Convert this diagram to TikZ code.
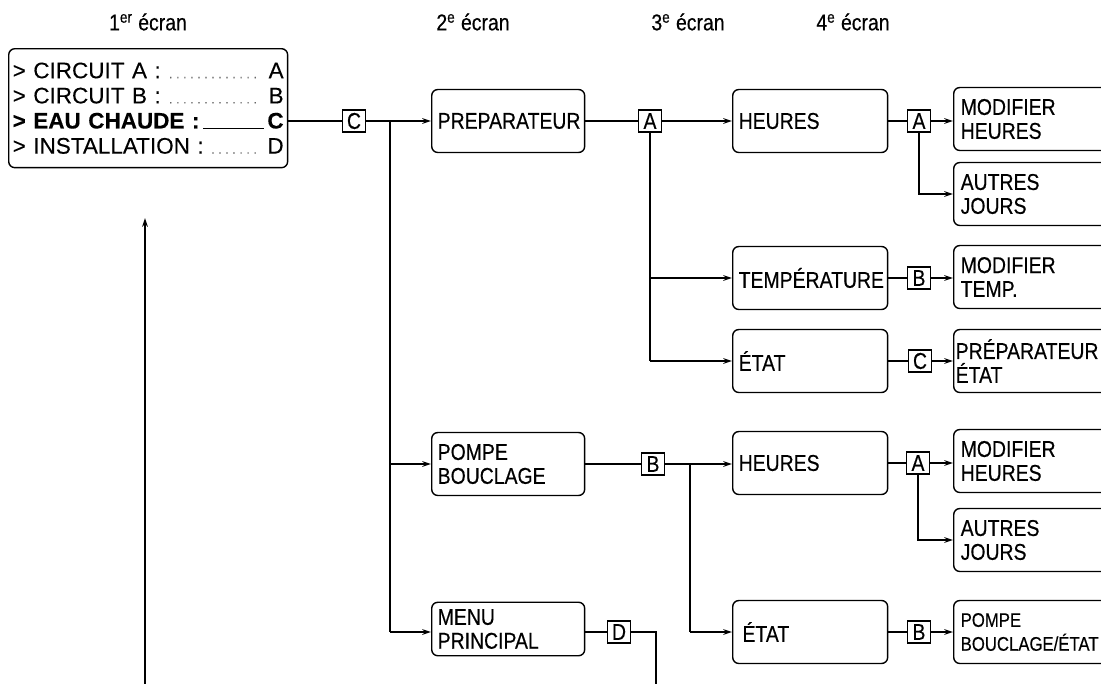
\documentclass[tikz,border=0pt]{standalone}
\usepackage{fontspec}
\setmainfont[FakeStretch=0.85,FakeBold=0.4]{Liberation Sans}
\newfontfamily\ecranfont[FakeBold=0.2]{Liberation Sans}
\usetikzlibrary{arrows.meta}
\newcommand{\pointilles}{\,{\color{black!60}\leaders\hbox to 4pt{\hss\fontsize{7}{7}\selectfont.\hss}\hfill}\,}
\newcommand{\trait}{\,\leaders\hrule height 0.5pt\hfill\,}

\begin{document}
\begin{tikzpicture}[
    x=0.02cm, y=-0.02cm,
    box/.style={draw, rounded corners=3.5pt, line width=0.8pt, align=left, inner xsep=0.12cm, inner ysep=0pt, minimum height=1.26cm, font=\fontsize{13}{13.6}\selectfont},
    box2/.style={box, text width=2.82cm},
    box3/.style={box, text width=2.86cm},
    box4/.style={box, text width=3.26cm, inner xsep=0.14cm},
    ecranbox/.style={draw, rounded corners=3.5pt, line width=0.8pt, align=left, inner xsep=0.08cm, text width=5.42cm, minimum height=2.38cm, font=\ecranfont\fontsize{12.8}{14.3}\selectfont},
    key/.style={draw, line width=0.8pt, inner sep=0pt, minimum width=0.46cm, minimum height=0.44cm, font=\fontsize{13}{13.6}\selectfont},
    titre/.style={font=\fontsize{13}{13.6}\selectfont},
    trace/.style={line width=0.8pt},
    arr/.style={-{Stealth[length=5pt,width=3.2pt]}, line width=0.8pt}
  ]
    \useasboundingbox (0,0) rectangle (1101,683);
    \node[titre] (t1) at (148,22) {1\textsuperscript{er} écran};
    \node[titre] (t2) at (473,22) {2\textsuperscript{e} écran};
    \node[titre] (t3) at (688,22) {3\textsuperscript{e} écran};
    \node[titre] (t4) at (853,22) {4\textsuperscript{e} écran};
    \node[ecranbox, anchor=north west] (ecran) at (8,48) {%
      > CIRCUIT A :\pointilles A\\
      > CIRCUIT B :\pointilles B\\
      \textbf{> EAU CHAUDE :}\trait\textbf{C}\\
      > INSTALLATION :\pointilles D};
    \node[key] (kC) at (354,121) {C};
    \node[box2, anchor=west] (prep) at (431,121) {PREPARATEUR};
    \node[key] (kA1) at (650,121) {A};
    \node[box3, anchor=west] (heures1) at (732,121) {HEURES};
    \node[key] (kA2) at (919,121) {A};
    \node[box4, anchor=west] (modh1) at (953,119) {MODIFIER\\HEURES};
    \node[box4, anchor=west] (jours1) at (953,194) {AUTRES\\JOURS};
    \node[box3, anchor=west] (temp) at (732,278) {TEMPÉRATURE};
    \node[key] (kB1) at (919,278) {B};
    \node[box4, anchor=west] (modt) at (953,277) {MODIFIER\\TEMP.};
    \node[box3, anchor=west] (etat1) at (732,361) {ÉTAT};
    \node[key] (kC2) at (920,361) {C};
    \node[box4, anchor=west, inner xsep=0.04cm, text width=3.46cm] (prepetat) at (953,361) {PRÉPARATEUR\\ÉTAT};
    \node[box2, anchor=west] (pompe) at (431,464) {POMPE\\BOUCLAGE};
    \node[key] (kB2) at (653,464) {B};
    \node[box3, anchor=west] (heures2) at (732,463) {HEURES};
    \node[key] (kA3) at (918,463) {A};
    \node[box4, anchor=west] (modh2) at (953,461) {MODIFIER\\HEURES};
    \node[box4, anchor=west] (jours2) at (953,540) {AUTRES\\JOURS};
    \node[box2, anchor=west, minimum height=1.07cm] (menu) at (431,629) {MENU\\PRINCIPAL};
    \node[key] (kD) at (619,632) {D};
    \node[box3, anchor=west] (etat2) at (732,632) {\,ÉTAT};
    \node[key] (kB3) at (919,632) {B};
    \node[box4, anchor=west, font=\fontsize{11.2}{13.6}\selectfont] (pbetat) at (953,632) {POMPE\\BOUCLAGE/ÉTAT};
    \coordinate (bC) at (390,121);
    \coordinate (bB) at (690,464);
    \coordinate (finD) at (656,690);
    \coordinate (retBas) at (145,690);
    \coordinate (retHaut) at (145,218);
    \draw[trace] (kC -| ecran.east) -- (kC);
    \draw[arr] (kC) -- (prep);
    \draw[trace] (bC) -- (bC |- kD);
    \draw[arr] (bC |- pompe) -- (pompe);
    \draw[arr] (bC |- kD) -- (kD -| menu.west);
    \draw[trace] (prep) -- (kA1);
    \draw[arr] (kA1) -- (heures1);
    \draw[trace] (kA1.south) -- (kA1 |- etat1);
    \draw[arr] (kA1 |- temp) -- (temp);
    \draw[arr] (kA1 |- etat1) -- (etat1);
    \draw[trace] (heures1) -- (kA2);
    \draw[arr] (kA2) -- (kA2 -| modh1.west);
    \draw[arr] (kA2.south) |- (jours1);
    \draw[trace] (temp) -- (kB1);
    \draw[arr] (kB1) -- (kB1 -| modt.west);
    \draw[trace] (etat1) -- (kC2);
    \draw[arr] (kC2) -- (prepetat);
    \draw[trace] (pompe) -- (kB2);
    \draw[arr] (kB2) -- (kB2 -| heures2.west);
    \draw[trace] (bB) -- (bB |- etat2);
    \draw[arr] (bB |- etat2) -- (etat2);
    \draw[trace] (heures2) -- (kA3);
    \draw[arr] (kA3) -- (kA3 -| modh2.west);
    \draw[arr] (kA3.south) |- (jours2);
    \draw[trace] (menu.east |- kD) -- (kD);
    \draw[trace] (kD) -| (finD);
    \draw[trace] (etat2) -- (kB3);
    \draw[arr] (kB3) -- (pbetat);
    \draw[arr] (retBas) -- (retHaut);
  \end{tikzpicture}
\end{document}
